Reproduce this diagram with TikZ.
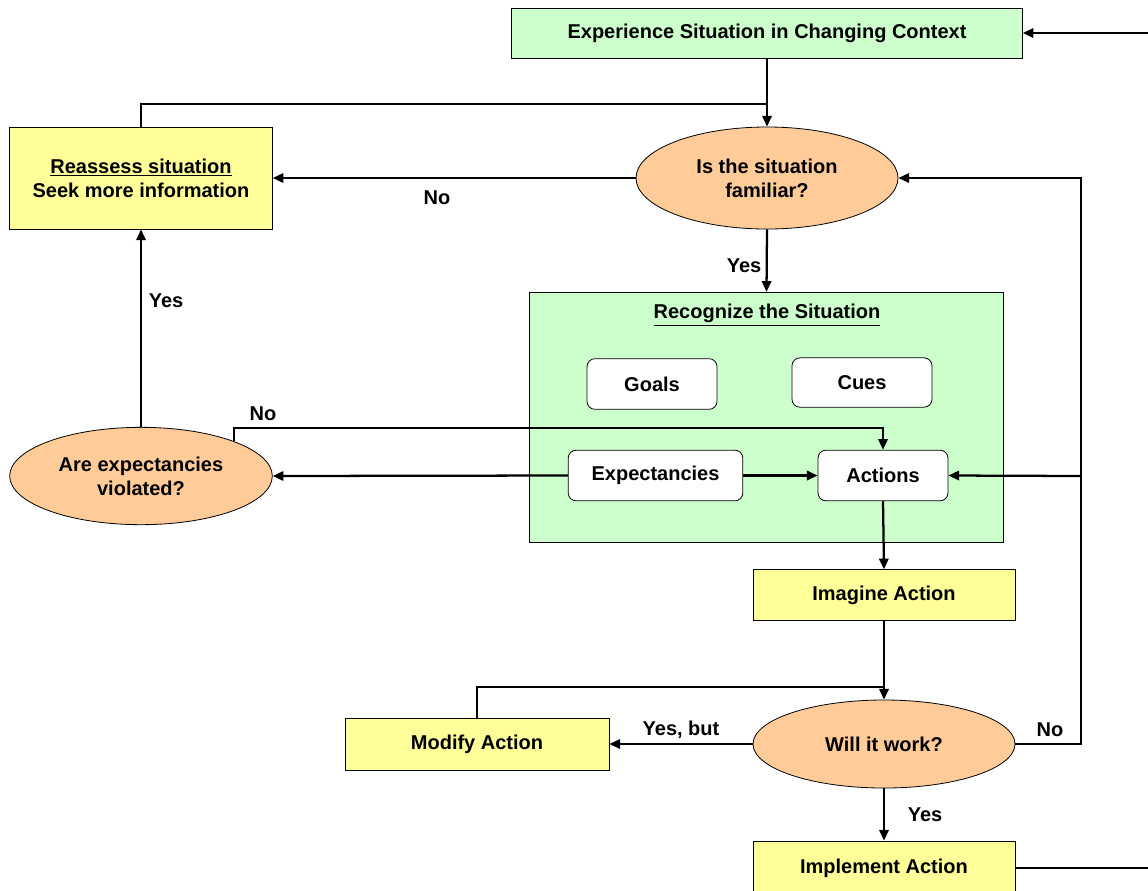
\documentclass[tikz,border=0pt]{standalone}
\usepackage{fontspec}
\setmainfont{Liberation Sans}
\usetikzlibrary{arrows.meta,shapes.geometric}
\definecolor{mint}{HTML}{CCFFCC}
\definecolor{lemon}{HTML}{FFFF99}
\definecolor{peach}{HTML}{FFCC99}

\begin{document}
\begin{tikzpicture}[x=.75pt,y=-.75pt,font=\fontsize{15}{18}\selectfont\bfseries,
  box/.style={draw,line width=.6pt,inner sep=0pt,align=center},
  greenbox/.style={box,fill=mint},
  yellowbox/.style={box,fill=lemon},
  question/.style={box,ellipse,fill=peach},
  item/.style={box,fill=white,rounded corners=6pt,minimum height=38pt},
  flow/.style={line width=1.7pt,-{Triangle[length=8pt,width=7pt]}},
  link/.style={line width=1.7pt}]
\useasboundingbox (0,0) rectangle (1148,890);
% boxes and questions
\node[greenbox,minimum width=383pt,minimum height=37.5pt] (context) at (767,33) {Experience Situation in Changing Context};
\node[yellowbox,minimum width=197pt,minimum height=76.5pt] (reassess) at (141,178) {\underline{Reassess situation}\\Seek more information};
\node[question,minimum width=196.5pt,minimum height=76.5pt] (familiar) at (767,178) {Is the situation\\familiar?};
\node[greenbox,minimum width=356pt,minimum height=188pt] (recog) at (766.5,417.5) {};
\node (title) at (767,315) {\underline{Recognize the Situation}};
\node[item,minimum width=97.5pt] (goals) at (652,384) {Goals};
\node[item,minimum width=105pt,minimum height=37pt] (cues) at (862,382.5) {Cues};
\node[item,minimum width=131pt] (expect) at (655.5,475.5) {Expectancies};
\node[item,minimum width=97.5pt] (actions) at (883,475.5) {Actions};
\node[question,minimum width=197pt,minimum height=73pt] (violated) at (141,476) {Are expectancies\\violated?};
\node[yellowbox,minimum width=196.5pt,minimum height=38pt] (imagine) at (884,595) {Imagine Action};
\node[question,minimum width=196.5pt,minimum height=66pt] (work) at (884,744) {Will it work?};
\node[yellowbox,minimum width=198pt,minimum height=39pt] (modify) at (477,744) {Modify Action};
\node[yellowbox,minimum width=196.5pt,minimum height=40.5pt] (implement) at (884,868) {Implement Action};
% free ends and bends
\coordinate (inR) at (1148,33);
\coordinate (outR) at (1148,868);
\coordinate (join1) at (767,104);
\coordinate (join2) at (884,687);
\coordinate (kink) at (883,428);
\coordinate (bus) at (1081,178);
\coordinate (bus2) at (1081,476);
% connectors
\draw[flow] (inR) -- (context.east);
\draw[flow] (context.south) -- (familiar.north);
\draw[link] (reassess.north) |- (join1);
\draw[flow] (familiar.west) -- (reassess.east);
\draw[flow] (familiar.south) -- (recog.north);
\draw[flow] (expect.east) -- (actions.west);
\draw[flow] (expect.west) -- (violated.east);
\draw[flow] (violated.north) -- (reassess.south);
\draw[flow] (violated.north east) |- (kink) -- (actions.north);
\draw[flow] (actions.south) -- (imagine.north);
\draw[flow] (imagine.south) -- (work.north);
\draw[link] (modify.north) |- (join2);
\draw[flow] (work.west) -- (modify.east);
\draw[flow] (work.east) -| (bus) -- (familiar.east);
\draw[flow] (bus2) -- (actions.east);
\draw[flow] (work.south) -- (implement.north);
\draw[link] (implement.east) -- (outR);
% labels
\node (noA) at (437,198) {No};
\node (yesA) at (744,266) {Yes};
\node (yesB) at (166,301) {Yes};
\node (noB) at (263,414) {No};
\node (yesbut) at (681,730) {Yes, but};
\node (noC) at (1050,730) {No};
\node (yesC) at (925,815) {Yes};
\end{tikzpicture}
\end{document}
